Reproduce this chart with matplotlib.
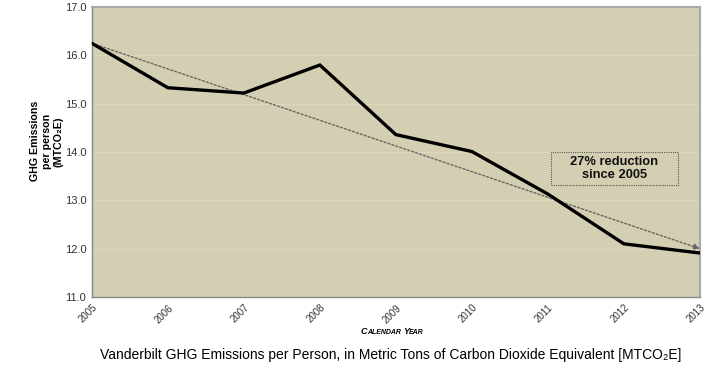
import numpy as np
import matplotlib.pyplot as plt
from matplotlib.patches import Rectangle

# data
years = [2005, 2006, 2007, 2008, 2009, 2010, 2011, 2012, 2013]
emissions = [16.25, 15.33, 15.22, 15.80, 14.36, 14.01, 13.13, 12.10, 11.91]
trend_start = (2005, 16.25)
trend_end = (2013, 12.0)
yticks = [11.0, 12.0, 13.0, 14.0, 15.0, 16.0, 17.0]

fig = plt.figure(figsize=(7.12, 3.72), dpi=100)
ax = fig.add_axes([0.129, 0.2016, 0.854, 0.7795])
ax.set_facecolor('#d4cfb2')

# faint gridlines
for y in yticks[1:-1]:
    ax.axhline(y, color='#dbd7bc', lw=0.8, zorder=1)

# trend arrow (dotted)
ax.annotate('', xy=trend_end, xytext=trend_start,
            arrowprops=dict(arrowstyle='-|>', color='#666666', lw=1.0,
                            linestyle=(0, (1.5, 1.5)), mutation_scale=9,
                            shrinkA=0, shrinkB=0), zorder=2)

ax.plot(years, emissions, color='black', lw=2.4, zorder=3, solid_joinstyle='miter')

ax.set_xlim(2005, 2013)
ax.set_ylim(11, 17)
ax.set_yticks(yticks)
ax.set_yticklabels(['%.1f' % v for v in yticks], fontsize=8, color='#333333',
                   family='Liberation Sans')
ax.set_xticks(years)
ax.set_xticklabels([str(y) for y in years], rotation=45, fontsize=7,
                   color='#333333', family='Liberation Sans', ha='right',
                   rotation_mode='anchor')
ax.tick_params(length=0, pad=4)

for s in ['left', 'bottom']:
    ax.spines[s].set_color('#888888')
    ax.spines[s].set_linewidth(1.0)
for s in ['top', 'right']:
    ax.spines[s].set_color('#aaaaaa')
    ax.spines[s].set_linewidth(1.5)

# annotation box
ax.add_patch(Rectangle((0.755, 0.386), 0.209, 0.114, transform=ax.transAxes,
                       fill=False, ec='#555555', lw=0.8, linestyle=(0, (1, 1)),
                       zorder=4))
ax.text(0.8595, 0.443, '27% reduction\nsince 2005', transform=ax.transAxes,
        ha='center', va='center', fontsize=9.3, fontweight='bold',
        family='Liberation Sans', color='#111111', linespacing=1.1, zorder=4)

fig.text(0.066, 0.62, 'GHG Emissions\nper person\n(MTCO\u2082E)', rotation=90,
         ha='center', va='center', fontsize=7.7, fontweight='bold',
         family='Liberation Sans', linespacing=1.25)

# small-caps style axis title, pieces chained left to right
kw = dict(fontweight='bold', fontstyle='italic', family='Liberation Sans',
          va='bottom', ha='left')
parts = [('C', 6.5), ('ALENDAR ', 5), ('Y', 6.5), ('EAR', 5)]
prev = fig.text(0.507, 0.098, parts[0][0], fontsize=parts[0][1], **kw)
for s, fs in parts[1:]:
    prev = ax.annotate(s, xy=(1, 0), xycoords=prev, fontsize=fs,
                       annotation_clip=False, **kw)

fig.text(0.549, 0.047, 'Vanderbilt GHG Emissions per Person, in Metric Tons of Carbon Dioxide Equivalent [MTCO\u2082E]',
         ha='center', va='center', fontsize=10.0, family='Liberation Sans')

fig.savefig('out.png', dpi=100)
